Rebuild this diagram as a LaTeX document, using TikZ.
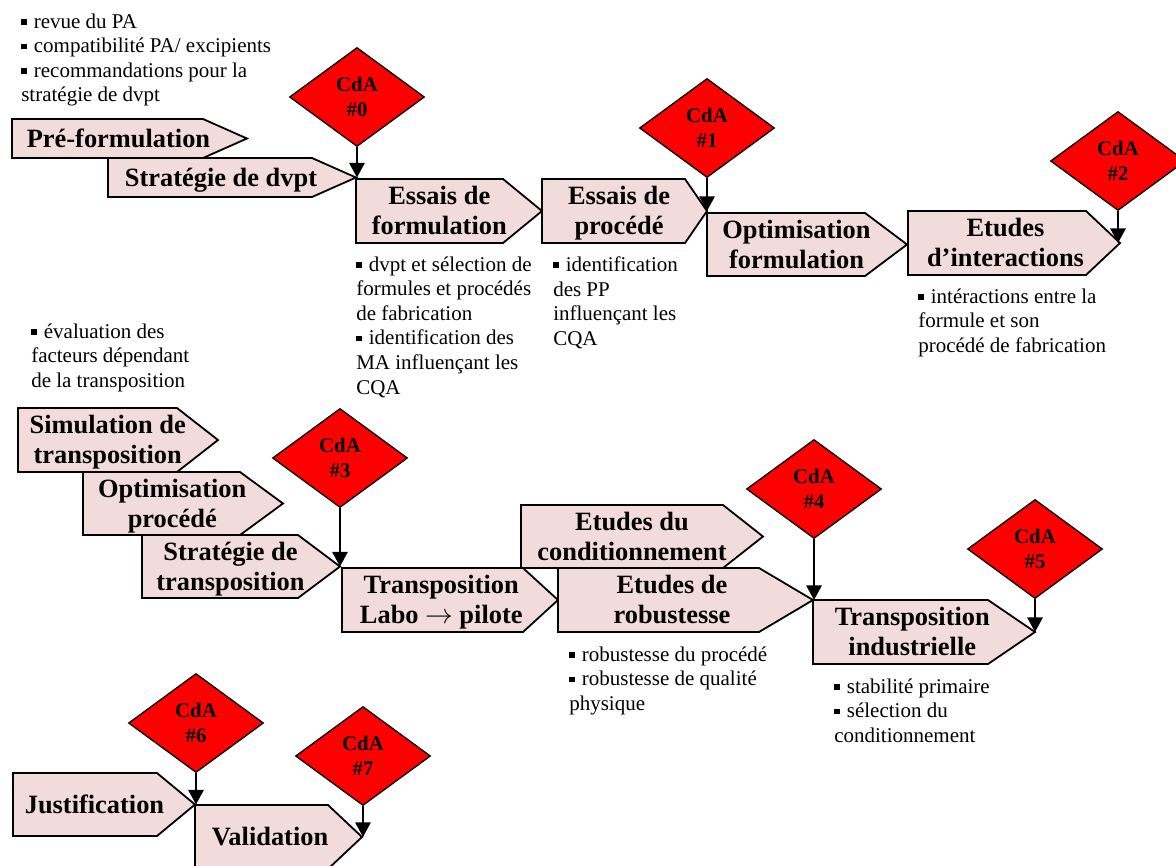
\documentclass[tikz,border=0pt]{standalone}
\usepackage{fontspec}
\setmainfont{Liberation Serif}
\usetikzlibrary{shapes.geometric,arrows.meta}

\definecolor{boxpink}{RGB}{242,220,219}
\definecolor{cdared}{RGB}{255,0,0}

% small square bullet used in the notes
\newcommand\sqbul{\raisebox{0.17em}{\rule{0.27em}{0.27em}}\hspace{0.33em}}
% one line of a step label with a fixed height and no depth
\newcommand\bline[1]{\rule{0pt}{0.68em}\smash{#1}}

% step box: name, left, top, bottom, shoulder, tip, label
\newcommand\flowbox[7]{%
  \draw[flowedge] (#2,#3) -- (#5,#3) -- (#6,{(#3+#4)/2}) -- (#5,#4) -- (#2,#4) -- cycle;
  \coordinate (#1-tip) at (#6,{(#3+#4)/2});
  \node[flowtext] (#1) at ({(#2+(#5+#6)/2)/2},{(#3+#4)/2}) {#7};
}

\tikzset{
  flowedge/.style={draw=black, line width=1.35pt, fill=boxpink, line join=miter},
  flowtext/.style={inner sep=0pt, align=center,
    font=\fontsize{19.8}{22.5}\selectfont\bfseries},
  cda/.style={diamond, draw=black, line width=1pt, fill=cdared,
    minimum width=101.25pt, minimum height=74.25pt, inner sep=0pt,
    align=center, font=\fontsize{15.6}{18.75}\selectfont\bfseries},
  annot/.style={anchor=north west, inner sep=0pt, align=left,
    font=\fontsize{15.75}{18.4}\selectfont},
  link/.style={line width=1.6pt, -{Triangle[length=11pt,width=11.5pt]}},
}

\begin{document}
\begin{tikzpicture}[x=0.75pt, y=-0.75pt]
\useasboundingbox (0,0) rectangle (1176,865);
\begin{scope}
\clip (0,0) rectangle (1176,865);

% ---- phase 1 : formulation
\flowbox{pre}{12}{119}{158}{203}{247}{\bline{Pré-formulation}}
\flowbox{strat}{108}{158}{197}{312}{356}{\bline{Stratégie de dvpt}}
\flowbox{esform}{356}{179}{243}{503}{542}{\bline{Essais de}\\\bline{formulation}}
\flowbox{esproc}{542}{179}{243}{685}{707}{\bline{Essais de}\\\bline{procédé}}
\flowbox{optform}{707}{213}{276}{865}{907}{\bline{Optimisation}\\\bline{formulation}}
\flowbox{etint}{908}{211}{275}{1086}{1120}{\bline{Etudes}\\\bline{d’interactions}}

\node[cda] (d0) at (357,97) {CdA\\\#0};
\node[cda] (d1) at (707,128) {CdA\\\#1};
\node[cda] (d2) at (1118,161) {CdA\\\#2};

\draw[link] (d0.south) -- (d0.south |- strat-tip);
\draw[link] (d1.south) -- (d1.south |- esproc-tip);
\draw[link] (d2.south) -- (d2.south |- etint-tip);

\node[annot] (n-pre) at (21,13.5) {\sqbul revue du PA\\\sqbul compatibilité PA/ excipients\\\sqbul recommandations pour la\\stratégie de dvpt};
\node[annot] (n-form) at (356,256.5) {\sqbul dvpt et sélection de\\formules et procédés\\de fabrication\\\sqbul identification des\\MA influençant les\\CQA};
\node[annot] (n-proc) at (553,256.5) {\sqbul identification\\des PP\\influençant les\\CQA};
\node[annot] (n-int) at (918,288.5) {\sqbul intéractions entre la\\formule et son\\procédé de fabrication};

% ---- phase 2 : transposition
\flowbox{simu}{18}{408}{472}{177}{218}{\bline{Simulation de}\\\bline{transposition}}
\flowbox{optproc}{83}{472}{535}{240}{283}{\bline{Optimisation}\\\bline{procédé}}
\flowbox{strattr}{142}{535}{598}{298}{340}{\bline{Stratégie de}\\\bline{transposition}}
\flowbox{labo}{342}{568}{632}{523}{558}{\bline{Transposition}\\\bline{Labo $\rightarrow$ pilote}}
\flowbox{cond}{521}{505}{568}{723}{763}{\bline{Etudes du}\\\bline{conditionnement}}
\flowbox{robu}{558}{568}{632}{759}{813}{\bline{Etudes de}\\\bline{robustesse}}
\flowbox{indus}{813}{600}{664}{988}{1035}{\bline{Transposition}\\\bline{industrielle}}

\node[cda] (d3) at (340,458) {CdA\\\#3};
\node[cda] (d4) at (814,489) {CdA\\\#4};
\node[cda] (d5) at (1035,549) {CdA\\\#5};

\draw[link] (d3.south) -- (d3.south |- strattr-tip);
\draw[link] (d4.south) -- (d4.south |- robu-tip);
\draw[link] (d5.south) -- (d5.south |- indus-tip);

\node[annot] (n-eval) at (31,323.5) {\sqbul évaluation des\\facteurs dépendant\\de la transposition};
\node[annot] (n-rob) at (569,646.5) {\sqbul robustesse du procédé\\\sqbul robustesse de qualité\\physique};
\node[annot] (n-ind) at (834,678.5) {\sqbul stabilité primaire\\\sqbul sélection du\\conditionnement};

% ---- phase 3 : validation
\flowbox{justif}{13}{773}{836}{157}{195}{\bline{Justification}}
\flowbox{valid}{195}{805}{869}{328}{362}{\bline{Validation}}

\node[cda] (d6) at (196,723) {CdA\\\#6};
\node[cda] (d7) at (363,756) {CdA\\\#7};

\draw[link] (d6.south) -- (d6.south |- justif-tip);
\draw[link] (d7.south) -- (d7.south |- valid-tip);

\end{scope}
\end{tikzpicture}
\end{document}
